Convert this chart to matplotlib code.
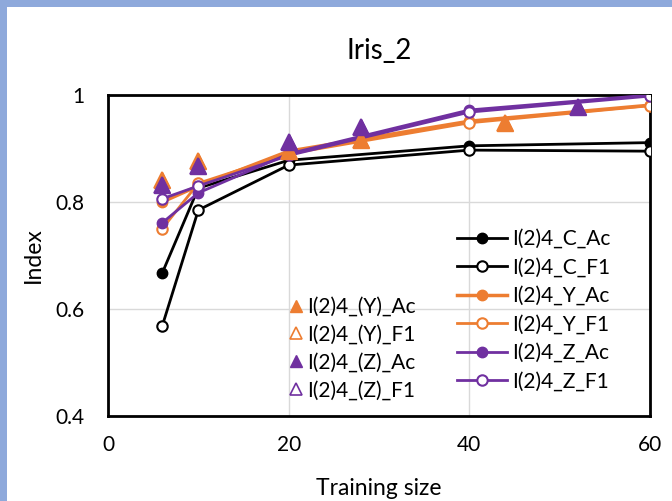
import matplotlib
matplotlib.use("Agg")
import matplotlib.pyplot as plt
from matplotlib.patches import Rectangle

plt.rcParams['font.family'] = ['Lato', 'DejaVu Sans']

x_line = [6, 10, 20, 40, 60]
c_ac = [0.667, 0.826, 0.878, 0.905, 0.911]
c_f1 = [0.568, 0.785, 0.869, 0.897, 0.895]
y_ac = [0.800, 0.830, 0.895, 0.951, 0.981]
y_f1 = [0.750, 0.835, 0.890, 0.948, 0.980]
z_ac = [0.761, 0.817, 0.890, 0.972, 1.000]
z_f1 = [0.806, 0.830, 0.887, 0.968, 0.998]

x_tri_y = [6, 10, 20, 28, 44]
tri_y_ac = [0.842, 0.877, 0.896, 0.916, 0.947]
tri_y_f1 = [0.842, 0.877, 0.896, 0.916, 0.947]
x_tri_z = [6, 10, 20, 28, 52]
tri_z_ac = [0.832, 0.867, 0.912, 0.940, 0.978]
tri_z_f1 = [0.832, 0.867, 0.912, 0.940, 0.978]

BLACK = '#000000'
ORANGE = '#ED7D31'
PURPLE = '#7030A0'

fig = plt.figure(figsize=(6.72, 5.01), dpi=100)
fig.patch.set_facecolor('#8EA9DB')
fig.patches.append(Rectangle((7/672, 0), 1, 1 - 7/501, transform=fig.transFigure,
                             facecolor='white', edgecolor='none', zorder=-10))
ax = fig.add_axes([108/672, 1 - 416/501, 542/672, 321/501])

lw = 2
ms = 7.5
l1, = ax.plot(x_line, c_ac, color=BLACK, lw=lw, marker='o', ms=ms, label='I(2)4_C_Ac', zorder=3)
l2, = ax.plot(x_line, c_f1, color=BLACK, lw=lw, marker='o', ms=ms, mfc='white', mew=1.5, label='I(2)4_C_F1', zorder=3)
l3, = ax.plot(x_line, y_ac, color=ORANGE, lw=2.5, marker='o', ms=ms, label='I(2)4_Y_Ac', zorder=4)
l4, = ax.plot(x_line, y_f1, color=ORANGE, lw=lw, marker='o', ms=ms, mfc='white', mew=1.5, label='I(2)4_Y_F1', zorder=4)
l5, = ax.plot(x_line, z_ac, color=PURPLE, lw=lw, marker='o', ms=ms, label='I(2)4_Z_Ac', zorder=5)
l6, = ax.plot(x_line, z_f1, color=PURPLE, lw=lw, marker='o', ms=ms, mfc='white', mew=1.5, label='I(2)4_Z_F1', zorder=5)

tms = 11
t2, = ax.plot(x_tri_y, tri_y_f1, ls='none', marker='^', ms=tms, mfc='white', mec=ORANGE, mew=1.2, label='I(2)4_(Y)_F1', zorder=6)
t1, = ax.plot(x_tri_y, tri_y_ac, ls='none', marker='^', ms=tms, color=ORANGE, label='I(2)4_(Y)_Ac', zorder=6)
t4, = ax.plot(x_tri_z, tri_z_f1, ls='none', marker='^', ms=tms, mfc='white', mec=PURPLE, mew=1.2, label='I(2)4_(Z)_F1', zorder=7)
t3, = ax.plot(x_tri_z, tri_z_ac, ls='none', marker='^', ms=tms, color=PURPLE, label='I(2)4_(Z)_Ac', zorder=7)

ax.set_xlim(0, 60)
ax.set_ylim(0.4, 1.0)
ax.set_xticks([0, 20, 40, 60])
ax.set_yticks([0.4, 0.6, 0.8, 1.0])
ax.set_yticklabels(['0.4', '0.6', '0.8', '1'])
ax.grid(True, color='#D9D9D9', lw=1)
ax.set_axisbelow(True)
ax.tick_params(axis='x', length=0, labelsize=15, pad=14)
ax.tick_params(axis='y', length=0, labelsize=15, pad=17)
for s in ax.spines.values():
    s.set_linewidth(2)
    s.set_color('black')

ax.set_title('Iris_2', fontsize=20, pad=26)
ax.set_xlabel('Training size', fontsize=16.5, labelpad=16)
ax.set_ylabel('Index', fontsize=16.5, labelpad=8)

leg1 = ax.legend(handles=[t1, t2, t3, t4], loc='upper left', bbox_to_anchor=(0.336, 0.371),
                 frameon=False, fontsize=15, handlelength=0.6, handletextpad=0.2,
                 labelspacing=0.375, borderpad=0, borderaxespad=0, markerscale=0.8)
ax.add_artist(leg1)
leg2 = ax.legend(handles=[l1, l2, l3, l4, l5, l6], loc='upper left', bbox_to_anchor=(0.644, 0.583),
                 frameon=False, fontsize=15, handlelength=2.4, handletextpad=0.24,
                 labelspacing=0.41, borderpad=0, borderaxespad=0)

fig.savefig('out.png', dpi=100, facecolor=fig.get_facecolor())
